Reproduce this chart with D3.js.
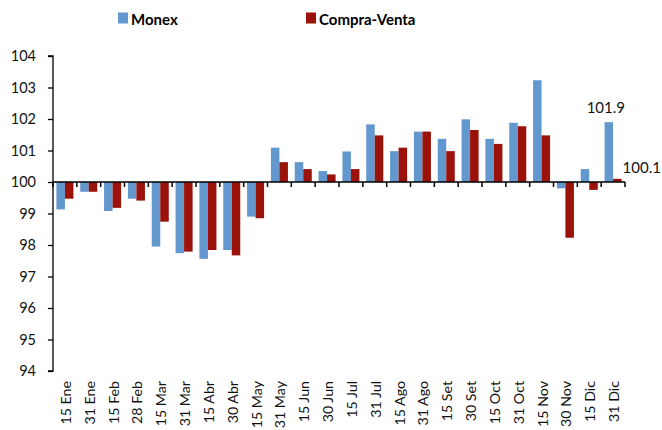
<!DOCTYPE html>
<html><head><meta charset="utf-8">
<script src="https://cdn.jsdelivr.net/npm/d3@7"></script>
<style>
html,body{margin:0;padding:0;background:#fff;}
svg{display:block;font-family:Lato,"Open Sans",sans-serif;}
</style></head>
<body><svg id="c" width="662" height="430"></svg>
<script>
const categories = ["15 Ene","31 Ene","15 Feb","28 Feb","15 Mar","31 Mar","15 Abr","30 Abr","15 May","31 May","15 Jun","30 Jun","15 Jul","31 Jul","15 Ago","31 Ago","15 Set","30 Set","15 Oct","31 Oct","15 Nov","30 Nov","15 Dic","31 Dic"];
const monex = [99.13,99.69,99.08,99.47,97.95,97.74,97.56,97.84,98.90,101.09,100.63,100.35,100.97,101.83,100.98,101.60,101.37,101.99,101.37,101.88,103.23,99.80,100.41,101.9];
const compraVenta = [99.47,99.69,99.18,99.41,98.74,97.79,97.84,97.67,98.85,100.63,100.41,100.24,100.41,101.48,101.09,101.60,100.98,101.65,101.21,101.77,101.48,98.23,99.75,100.1];
const seriesNames = ["Monex","Compra-Venta"];
const yTicks = [94,95,96,97,98,99,100,101,102,103,104];
const colors = ["#6398CE","#9A1209"];
const baseline = 100;

const svg = d3.select("#c");
const x = d3.scaleBand().domain(categories).range([53,625]).padding(0);
const xs = d3.scaleBand().domain(seriesNames).range([0,x.bandwidth()]).paddingInner(0).paddingOuter(0.4);
const y = d3.scaleLinear().domain([94,104]).range([371,56]);

const data = categories.map((c,i)=>({c, vals:[monex[i],compraVenta[i]]}));

// bars
const g = svg.append("g");
seriesNames.forEach((s,si)=>{
  g.selectAll(null).data(data).enter().append("rect")
    .attr("x", d=>x(d.c)+xs(s))
    .attr("width", xs.bandwidth())
    .attr("y", d=>Math.min(y(d.vals[si]), y(baseline)))
    .attr("height", d=>Math.abs(y(d.vals[si])-y(baseline)))
    .attr("fill", colors[si]);
});

// y axis
const ya = svg.append("g").attr("transform","translate(53,0)")
  .call(d3.axisLeft(y).tickValues(yTicks).tickSize(5).tickPadding(12).tickFormat(d3.format("d")));
ya.selectAll(".tick line").attr("stroke","#000").attr("stroke-width",1.3);
ya.selectAll("text").attr("font-size",14.5).attr("fill","#111").attr("font-family","Lato");
ya.select(".domain").attr("stroke","#000").attr("stroke-width",1.3).attr("d", "M-5,"+y(104)+"H0V"+y(94)+"H-5");

// x axis at baseline
const y0 = y(baseline);
svg.append("line").attr("x1",x.range()[0]).attr("x2",x.range()[1]).attr("y1",y0).attr("y2",y0)
  .attr("stroke","#000").attr("stroke-width",1.5);
const bounds = categories.map(c=>x(c)).concat([x.range()[1]]);
svg.selectAll(null).data(bounds).enter().append("line")
  .attr("x1",d=>d).attr("x2",d=>d).attr("y1",y0).attr("y2",y0+5)
  .attr("stroke","#000").attr("stroke-width",1.5);

// x labels
svg.selectAll(null).data(categories).enter().append("text")
  .attr("transform", d=>`translate(${x(d)+x.bandwidth()/2+1},381) rotate(-90)`)
  .attr("text-anchor","end").attr("dy","0.35em")
  .attr("font-size",14.2).attr("fill","#111").text(d=>d);

// data labels for last category
const last = data[data.length-1];
svg.append("text")
  .attr("x", x(last.c)+xs("Monex")+xs.bandwidth()/2 - 3)
  .attr("y", y(last.vals[0]) - 9)
  .attr("text-anchor","middle").attr("font-size",15).attr("fill","#111")
  .text(d3.format(".1f")(last.vals[0]));
svg.append("text")
  .attr("x", x(last.c)+xs("Compra-Venta")+xs.bandwidth() + 1)
  .attr("y", y(last.vals[1]) - 6)
  .attr("text-anchor","start").attr("font-size",15).attr("fill","#111")
  .text(d3.format(".1f")(last.vals[1]));

// legend
const legX = [118,306];
seriesNames.forEach((s,i)=>{
  svg.append("rect").attr("x",legX[i]).attr("y",12.5).attr("width",10).attr("height",11).attr("fill",colors[i]);
  svg.append("text").attr("x",legX[i]+13).attr("y",25).attr("font-size",15).attr("font-weight","bold")
    .attr("fill","#000").text(s);
});
</script></body></html>
